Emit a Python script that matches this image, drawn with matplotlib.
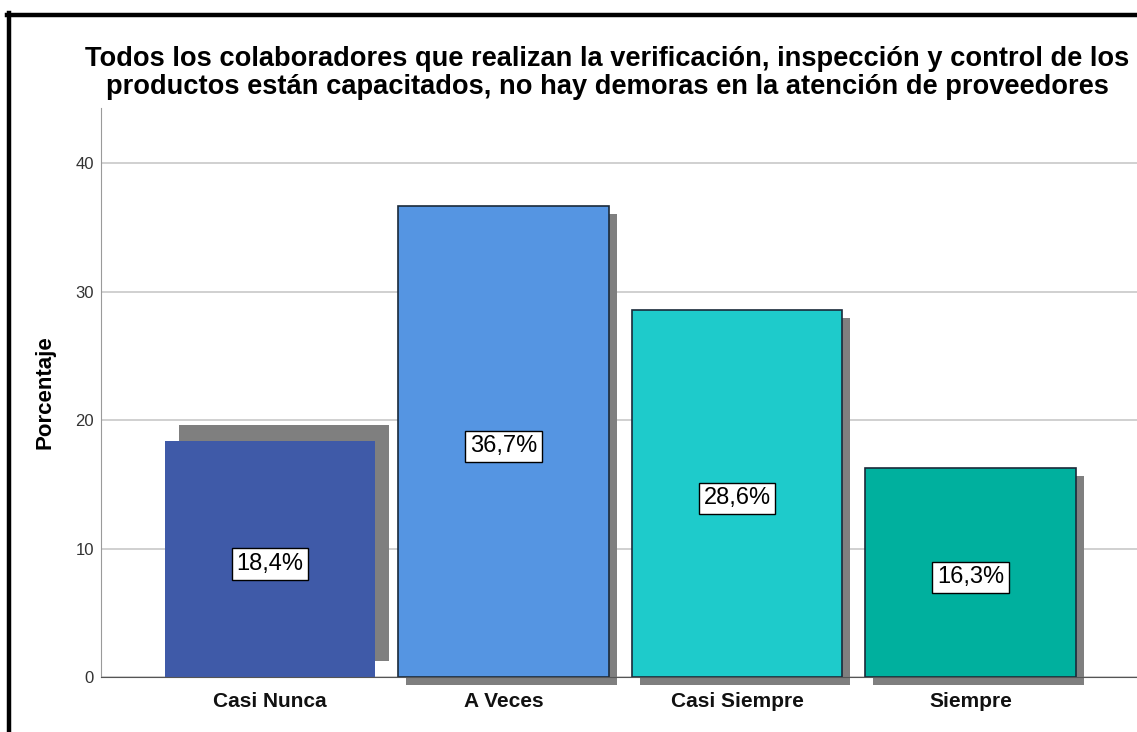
import matplotlib
matplotlib.use('Agg')
import matplotlib.pyplot as plt
from matplotlib.transforms import offset_copy
from matplotlib.patches import Rectangle
from matplotlib.lines import Line2D

plt.rcParams['font.family'] = ['Liberation Sans', 'DejaVu Sans']

# data
categories = ['Casi Nunca', 'A Veces', 'Casi Siempre', 'Siempre']
porcentaje = [18.4, 36.7, 28.6, 16.3]
etiquetas = ['18,4%', '36,7%', '28,6%', '16,3%']
yticks = [0, 10, 20, 30, 40]
titulo = ('Todos los colaboradores que realizan la verificación, inspección y control de los\n'
          'productos están capacitados, no hay demoras en la atención de proveedores')

colors = ['#3F5AA8', '#5595E2', '#1ECBCB', '#00B09E']
edges = ['none', '#1a2a3a', '#1a2a3a', '#1a2a3a']
# shadow offsets in pixels (the first one is drawn oddly in the original)
shadow_off = [(14, 16), (8, -8), (8, -8), (8, -8)]

fig = plt.figure(figsize=(11.37, 7.32), dpi=100)
ax = fig.add_axes([101/1137, 1 - 677/732, 1 - 101/1137, (677 - 108)/732])

x = range(len(categories))
width = 0.9

for i, (xi, v) in enumerate(zip(x, porcentaje)):
    tr = offset_copy(ax.transData, fig=fig, x=shadow_off[i][0], y=shadow_off[i][1], units='dots')
    sh = Rectangle((xi - width/2, 0), width, v, transform=tr, facecolor='#7f7f7f',
                   edgecolor='none', zorder=2, clip_on=False)
    ax.add_patch(sh)

bars = ax.bar(x, porcentaje, width=width, color=colors, edgecolor=edges, linewidth=1.2, zorder=3)

for xi, v, lab in zip(x, porcentaje, etiquetas):
    ax.text(xi, v / 2 - 0.4, lab, ha='center', va='center', fontsize=17, zorder=5,
            bbox=dict(boxstyle='square,pad=0.2', facecolor='white', edgecolor='black', linewidth=1))

ax.set_xlim(-0.724, 3.713)
ax.set_ylim(0, 44.3)
ax.set_yticks(yticks)
ax.set_yticklabels([str(t) for t in yticks], fontsize=12, color='#333333')
ax.set_xticks(list(x))
ax.set_xticklabels(categories, fontsize=15, fontweight='bold', color='#111111')
ax.tick_params(axis='both', length=0)
ax.tick_params(axis='x', pad=11)
ax.tick_params(axis='y', pad=5)
ax.grid(axis='y', color='#c8c8c8', linewidth=1.2, zorder=0)
ax.set_axisbelow(True)
for s in ['top', 'right']:
    ax.spines[s].set_visible(False)
ax.spines['left'].set_color('#9a9a9a')
ax.spines['bottom'].set_color('#555555')
ax.spines['bottom'].set_zorder(4)
ax.set_ylabel('Porcentaje', fontsize=16, fontweight='bold', labelpad=14)

fig.text(0.534, 1 - 73/732, titulo, ha='center', va='center', fontsize=19.6,
         fontweight='bold', linespacing=1.1)

# black frame (cropped on right/bottom in original)
fig.add_artist(Line2D([8.5/1137, 8.5/1137], [0, 1 - 13/732], transform=fig.transFigure,
                      color='black', linewidth=3.2))
fig.add_artist(Line2D([7/1137, 1], [1 - 14.5/732, 1 - 14.5/732], transform=fig.transFigure,
                      color='black', linewidth=3.2))

fig.savefig('out.png', dpi=100, facecolor='white')
